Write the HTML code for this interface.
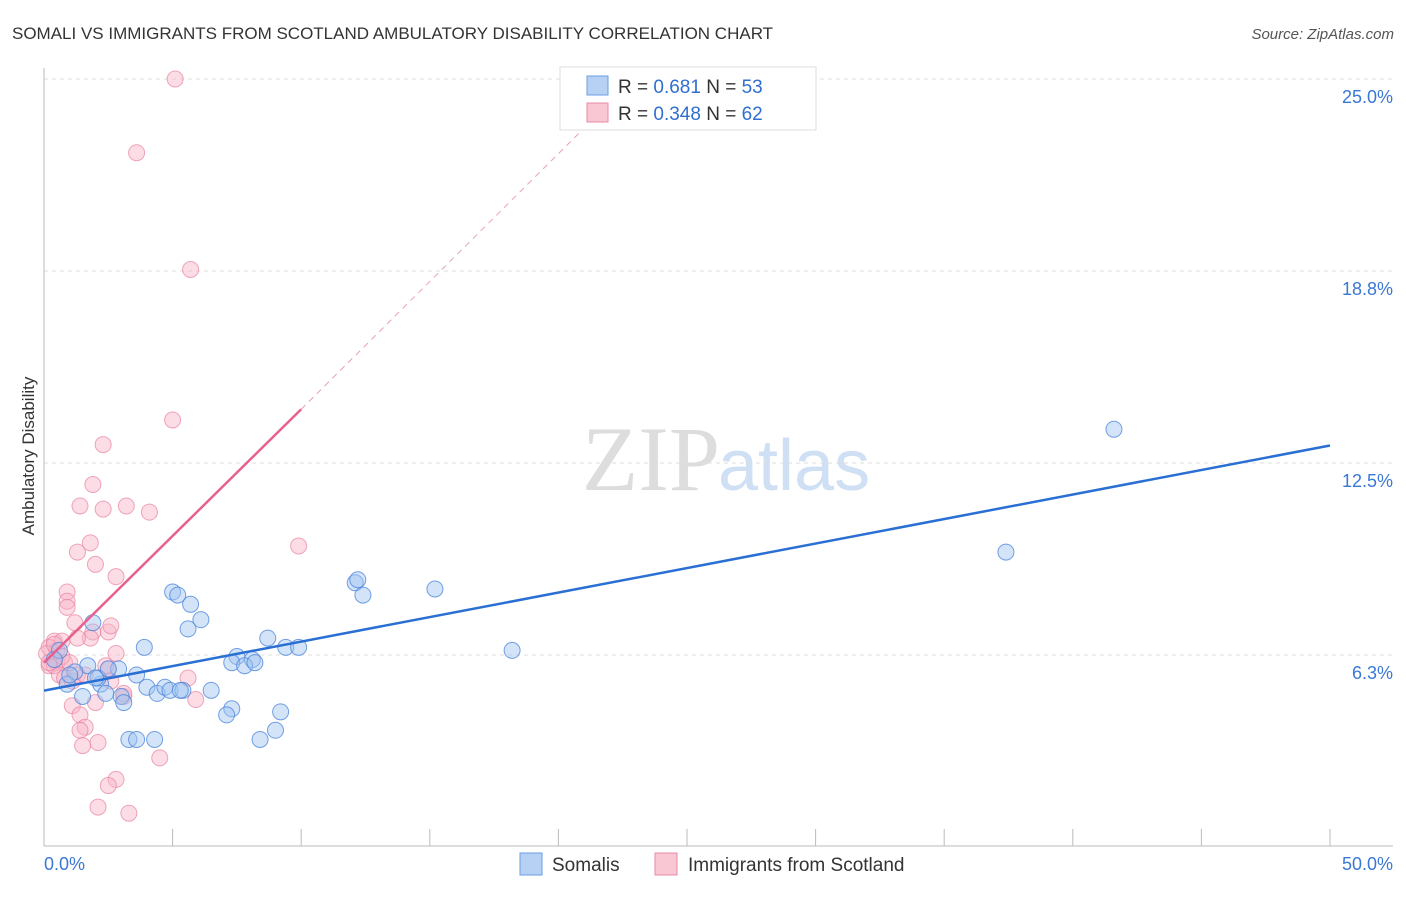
<!DOCTYPE html>
<html><head><meta charset="utf-8"><style>
body{margin:0;background:#fff;font-family:"Liberation Sans",sans-serif}
</style></head><body>
<svg width="1406" height="892" xmlns="http://www.w3.org/2000/svg" font-family="Liberation Sans, sans-serif">
<text x="12" y="39" font-size="17" fill="#333">SOMALI VS IMMIGRANTS FROM SCOTLAND AMBULATORY DISABILITY CORRELATION CHART</text>
<text x="1394" y="39" font-size="15" fill="#555" font-style="italic" text-anchor="end">Source: ZipAtlas.com</text>
<text x="720" y="490" font-size="92" fill="#ddd" text-anchor="end" font-family="Liberation Serif, serif">ZIP</text>
<text x="718" y="490" font-size="72" fill="#cfe0f5">atlas</text>
<g id="grid"></g><g id="axes"></g><g id="pts"></g><g id="lines"></g>
<text transform="translate(34,456) rotate(-90)" font-size="17" fill="#333" text-anchor="middle">Ambulatory Disability</text>
<g>
<rect x="560" y="67" width="256" height="63" fill="#fff" stroke="#ddd"/>
<rect x="587" y="76" width="21" height="19" fill="#b6d1f4" stroke="#6a9ee6"/>
<rect x="587" y="103" width="21" height="19" fill="#f9c6d4" stroke="#e88aa6"/>
<text x="618" y="93" font-size="19" fill="#333">R = <tspan fill="#2f6fd0"> 0.681</tspan>   N = <tspan fill="#2f6fd0">53</tspan></text>
<text x="618" y="120" font-size="19" fill="#333">R = <tspan fill="#2f6fd0">0.348</tspan>   N = <tspan fill="#2f6fd0">62</tspan></text>
</g>
<g>
<rect x="520" y="853" width="22" height="22" fill="#b6d1f4" stroke="#6a9ee6"/>
<text x="552" y="871" font-size="19" fill="#333">Somalis</text>
<rect x="655" y="853" width="22" height="22" fill="#f9c6d4" stroke="#e88aa6"/>
<text x="688" y="871" font-size="19" fill="#333">Immigrants from Scotland</text>
</g>
</svg>
<script>
const yTicks=[25,18.75,12.5,6.25];
const yTickLabels=["25.0%","18.8%","12.5%","6.3%"];
const xTickLabels=["0.0%","50.0%"];
const blueX=[1.9,5.0,5.2,5.7,6.1,5.6,3.9,8.7,9.4,9.9,7.5,7.3,8.1,7.8,8.2,12.1,12.2,12.4,15.2,18.2,41.6,37.4,1.7,1.2,0.9,2.2,2.1,2.4,1.5,2.9,3.6,4.0,4.4,4.7,4.9,5.4,6.5,3.0,3.1,7.3,7.1,9.2,9.0,8.4,3.3,3.6,4.3,2.5,0.6,0.4,1.0,2.0,5.3];
const blueY=[7.3,8.3,8.2,7.9,7.4,7.1,6.5,6.8,6.5,6.5,6.2,6.0,6.1,5.9,6.0,8.6,8.7,8.2,8.4,6.4,13.6,9.6,5.9,5.7,5.3,5.3,5.5,5.0,4.9,5.8,5.6,5.2,5.0,5.2,5.1,5.1,5.1,4.9,4.7,4.5,4.3,4.4,3.8,3.5,3.5,3.5,3.5,5.8,6.4,6.1,5.6,5.5,5.1];
const pinkX=[5.1,3.6,5.7,5.0,2.3,1.9,1.4,2.3,3.2,4.1,9.9,1.3,1.8,2.0,2.8,0.9,0.9,0.9,1.2,1.9,2.5,2.6,1.8,1.3,0.4,0.7,0.2,0.5,0.5,0.2,0.4,0.8,0.1,0.6,0.8,1.1,1.3,2.8,2.5,2.4,2.6,3.1,3.1,5.6,5.9,2.0,1.1,1.4,1.6,1.4,1.5,2.1,2.8,2.5,2.1,3.3,4.5,0.2,0.4,0.7,1.0,1.6];
const pinkY=[25.0,22.6,18.8,13.9,13.1,11.8,11.1,11.0,11.1,10.9,9.8,9.6,9.9,9.2,8.8,8.3,8.0,7.8,7.3,7.0,7.0,7.2,6.8,6.8,6.7,6.7,6.5,6.4,6.0,5.9,5.9,6.0,6.3,5.6,5.5,5.4,5.6,6.3,5.8,5.9,5.4,4.9,5.0,5.5,4.8,4.7,4.6,4.3,3.9,3.8,3.3,3.4,2.2,2.0,1.3,1.1,2.9,6.0,6.6,6.2,6.0,5.6];
const blueLine=[[0,5.09],[50,13.07]];
const pinkLine=[[0,6.0],[10,14.25]];
const pinkDash=[[10,14.25],[21,23.4]];
const X=v=>44+v/50*1286, Y=v=>847-v*30.72;
const NS="http://www.w3.org/2000/svg";
function mk(t,a,p){const e=document.createElementNS(NS,t);for(const k in a)e.setAttribute(k,a[k]);document.getElementById(p).appendChild(e);return e;}
yTicks.forEach((t,i)=>{
 const g=mk('line',{x1:44,x2:1393,y1:Y(t),y2:Y(t),stroke:'#ddd','stroke-dasharray':'4,4'},'grid');
 
 
 const l=mk('text',{x:1393,y:Y(t)+24,'font-size':18,fill:'#3a78d4','text-anchor':'end'},'axes');
 l.textContent=yTickLabels[i];
 
 
});
mk('line',{x1:44,x2:44,y1:68,y2:846,stroke:'#bbb'},'axes');
mk('line',{x1:44,x2:1393,y1:846,y2:846,stroke:'#bbb'},'axes');
for(let i=0;i<=10;i++){const t=mk('line',{x1:X(i*5),x2:X(i*5),y1:829,y2:846,stroke:'#bbb'},'axes');
 
 }
[[0,68,'start'],[50,1393,'end']].forEach((d,i)=>{const l=mk('text',{x:i?1393:44,y:870,'font-size':18,fill:'#3a78d4','text-anchor':d[2]},'axes');l.textContent=xTickLabels[i];
 
 });
pinkX.forEach((x,i)=>{const c=mk('circle',{cx:X(x),cy:Y(pinkY[i]),r:8,fill:'rgba(248,180,200,0.45)',stroke:'rgba(232,130,160,0.7)'},'pts');
 
 });
blueX.forEach((x,i)=>{const c=mk('circle',{cx:X(x),cy:Y(blueY[i]),r:8,fill:'rgba(160,195,240,0.45)',stroke:'rgba(70,130,220,0.75)'},'pts');
 
 });
const bl=mk('line',{x1:X(blueLine[0][0]),y1:Y(blueLine[0][1]),x2:X(blueLine[1][0]),y2:Y(blueLine[1][1]),stroke:'#2a6fd3','stroke-width':2.5},'lines');


const pl=mk('line',{x1:X(pinkLine[0][0]),y1:Y(pinkLine[0][1]),x2:X(pinkLine[1][0]),y2:Y(pinkLine[1][1]),stroke:'#e8608e','stroke-width':2.5},'lines');


const pd=mk('line',{x1:X(pinkDash[0][0]),y1:Y(pinkDash[0][1]),x2:X(pinkDash[1][0]),y2:Y(pinkDash[1][1]),stroke:'#e8a0b8','stroke-width':1,'stroke-dasharray':'6,5'},'lines');


</script>
</body></html>
